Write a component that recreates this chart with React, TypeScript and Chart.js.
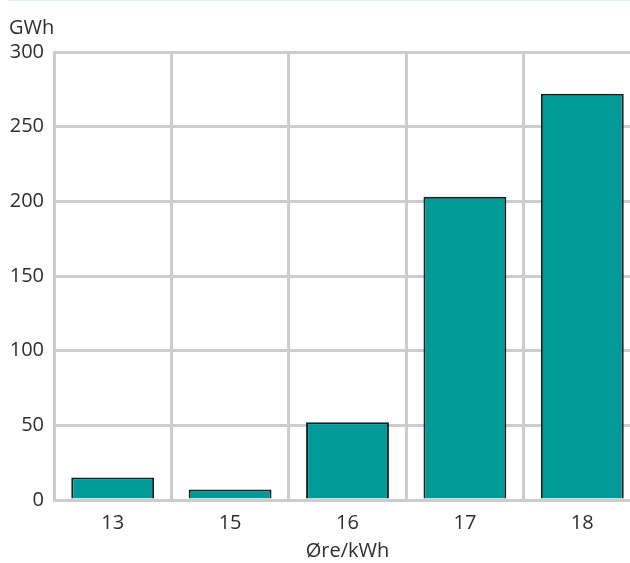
import React, { useEffect, useRef } from 'react';
import { Chart, registerables } from 'chart.js';

Chart.register(...registerables);

const categories: string[] = ['13', '15', '16', '17', '18'];
const values: number[] = [15, 7, 52, 203, 272];
const yTitle = 'GWh';
const xTitle = 'Øre/kWh';
const yMin = 0;
const yMax = 300;
const yStep = 50;

const FONT = '"Open Sans", "Noto Sans", sans-serif';
const TEXT = '#2e2e2e';
const GRID = '#cccccc';
const FS = 20;

export default function App() {
  const ref = useRef<HTMLCanvasElement | null>(null);

  useEffect(() => {
    if (!ref.current) return;
    const chart = new Chart(ref.current, {
      type: 'bar',
      data: {
        labels: categories,
        datasets: [
          {
            data: values,
            backgroundColor: '#009a98',
            borderColor: '#152222',
            borderWidth: 2,
            barPercentage: 0.706,
            categoryPercentage: 1,
          },
        ],
      },
      options: {
        animation: false,
        responsive: true,
        maintainAspectRatio: false,
        layout: { padding: { left: 1, right: 7, top: 0, bottom: 0 } },
        plugins: {
          legend: { display: false },
          tooltip: { enabled: false },
          title: {
            display: true,
            text: yTitle,
            align: 'start',
            color: TEXT,
            font: { family: FONT, size: FS, weight: 'normal' },
            padding: { top: 15, bottom: 12 },
          },
        },
        scales: {
          x: {
            offset: true,
            afterFit: (scale: any) => {
              scale.height = 63;
            },
            grid: {
              offset: true,
              color: GRID,
              lineWidth: 3,
              drawTicks: false,
            },
            border: { display: false },
            ticks: {
              color: TEXT,
              font: { family: FONT, size: FS },
              padding: 11,
            },
            title: {
              display: true,
              text: xTitle,
              color: TEXT,
              font: { family: FONT, size: FS },
              padding: { top: 0, bottom: 0 },
            },
          },
          y: {
            min: yMin,
            max: yMax,
            afterFit: (scale: any) => {
              scale.width = 45;
            },
            grid: {
              color: GRID,
              lineWidth: 3,
              drawTicks: false,
            },
            border: { display: true, color: GRID, width: 3 },
            ticks: {
              stepSize: yStep,
              color: TEXT,
              font: { family: FONT, size: FS },
              padding: 10,
            },
          },
        },
      },
    });
    return () => chart.destroy();
  }, []);

  return (
    <div
      style={{
        position: 'absolute',
        left: 8,
        top: 0,
        width: 622,
        height: 563,
        overflow: 'hidden',
        borderTop: '1px solid #d9f0f0',
        boxSizing: 'border-box',
      }}
    >
      <div style={{ position: 'relative', width: 640, height: 562 }}>
        <canvas ref={ref} />
      </div>
    </div>
  );
}
